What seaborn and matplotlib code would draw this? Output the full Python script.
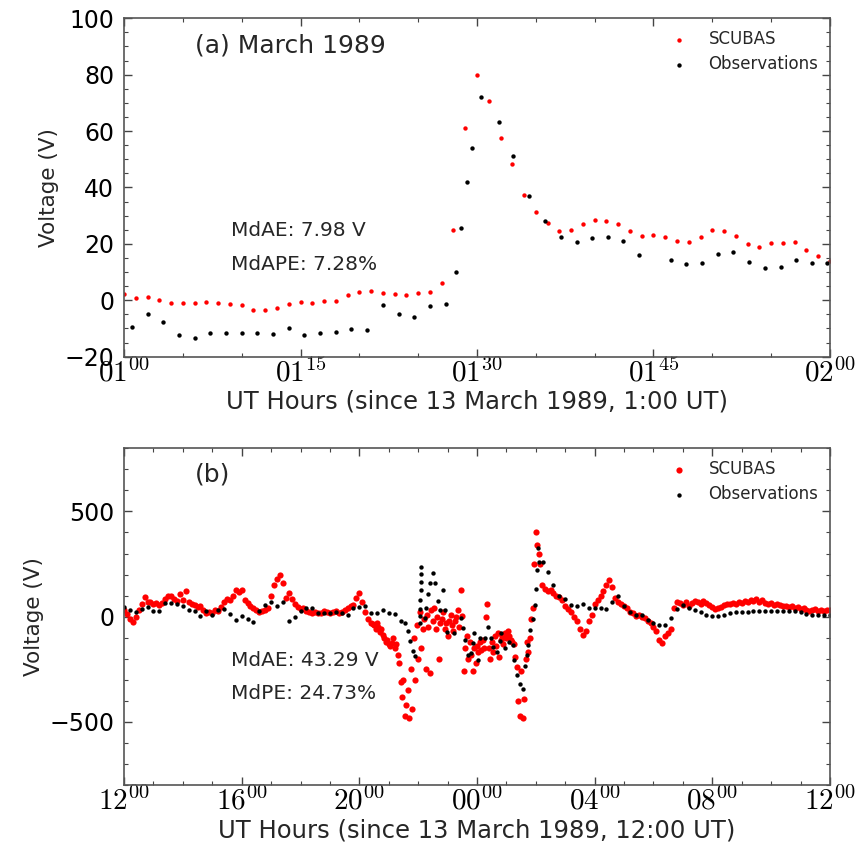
import numpy as np
import pandas as pd
import matplotlib
matplotlib.use("Agg")
import matplotlib.pyplot as plt
import seaborn as sns

# ---------------- Panel (a): 13 March 1989, 01:00-02:00 UT (minutes since 01:00) ----------------
scubas_a_start, scubas_a_step = 0.0, 1.0
scubas_a_v = [2.1, 0.7, 1.3, 0.2, -1.1, -1.1, -1.0, -0.5, -0.8, -1.2,
              -1.7, -3.4, -3.4, -2.7, -1.3, -0.6, -1.1, -0.4, -0.3, 1.9,
              2.8, 3.4, 2.7, 2.2, 2.0, 2.5, 2.9, 6.1, 24.9, 61.1,
              79.8, 70.8, 57.4, 48.3, 37.2, 31.3, 27.4, 24.5, 24.9, 26.9,
              28.5, 28.1, 27.1, 24.6, 22.7, 23.3, 22.3, 20.9, 20.7, 22.3,
              24.9, 24.5, 22.7, 20.0, 18.9, 20.2, 20.2, 20.8, 17.8, 15.8,
              13.9]
obs_a_t = [0.67, 2.0, 3.34, 4.67, 6.0, 7.33, 8.67, 10.0, 11.33, 12.67,
           14.0, 15.33, 16.67, 18.0, 19.33, 20.67, 22.0, 23.33, 24.67, 26.0,
           27.33, 28.2, 28.67, 29.14, 29.54, 30.33, 31.9, 33.07, 34.43, 35.77,
           37.12, 38.46, 39.79, 41.1, 42.45, 43.78, 46.5, 47.8, 49.1, 50.46,
           51.8, 53.1, 54.48, 55.8, 57.15, 58.48, 59.75]
obs_a_v = [-9.4, -4.9, -7.7, -12.3, -13.4, -11.7, -11.7, -11.5, -11.7, -12.0,
           -9.8, -12.3, -11.7, -11.4, -10.1, -10.6, -1.8, -5.0, -6.0, -2.1,
           -1.4, 10.1, 25.5, 42.0, 53.9, 72.1, 63.1, 51.1, 37.1, 28.0,
           22.4, 20.7, 22.1, 22.6, 21.1, 16.1, 14.2, 13.0, 13.2, 16.5,
           17.1, 13.6, 11.5, 11.9, 14.4, 13.3, 13.1]
xticks_a = [0, 15, 30, 45, 60]
xticklabels_a = [r"$\mathrm{01}^{00}$", r"$\mathrm{01}^{15}$", r"$\mathrm{01}^{30}$",
                 r"$\mathrm{01}^{45}$", r"$\mathrm{02}^{00}$"]

# ---------------- Panel (b): hours since 13 March 1989, 12:00 UT ----------------
# SCUBAS, segment 1 (0.0-8.4 h, 0.1 h sampling)
scubas_b1_start, scubas_b1_step = 0.0, 0.1
scubas_b1_v = [30, 14, -10, -25, 0, 30, 60, 93, 70, 70,
               58, 65, 54, 65, 85, 96, 100, 85, 74, 109,
               77, 122, 70, 58, 54, 46, 49, 30, 17, 22,
               17, 30, 27, 46, 70, 85, 77, 100, 125, 117,
               125, 80, 65, 50, 40, 30, 20, 25, 30, 40,
               100, 150, 180, 200, 160, 90, 110, 85, 60, 45,
               35, 40, 25, 20, 15, 20, 15, 18, 25, 20,
               15, 20, 25, 15, 20, 30, 40, 50, 55, 90,
               110, 70, 20, -10, -30]
# SCUBAS, segment 2 (8.45-14.15 h, 0.05 h sampling)
scubas_b2_start, scubas_b2_step = 8.45, 0.05
scubas_b2_v = [-35,
               -40, -60, -30, -50, -75, -60, -85, -100, -120, -110,
               -130, -140, -125, -100, -150, -130, -180, -220, -310, -380,
               -300, -470, -420, -350, -480, -250, -440, -100, -300, -40,
               -200, 20, -150, -60, -10, -250, 10, -50, -270, 30,
               -20, 40, -60, 0, -200, -30, -10, 20, -60, -30,
               -90, -20, 10, -40, -70, -20, 0, 30, -50, 125,
               5, -260, -150, -90, -200, -120, -180, -260, -150, -220,
               -140, -170, -120, -160, -110, -150, 0, 60, -150, -200,
               -120, -170, -90, -140, -80, -190, -110, -90, -130, -80,
               -100, -70, -90, -110, -120, -130, -190, -240, -400, -470,
               -260, -480, -390, -200, -120, -170, -100, -10, 40, 250,
               400, 340, 300, 250]
# SCUBAS, segment 3 (14.2-24.0 h, 0.1 h sampling)
scubas_b3_start, scubas_b3_step = 14.2, 0.1
scubas_b3_v = [150, 130, 120, 125, 110, 100, 95, 80,
               50, 35, 20, 0, -20, -60, -85, -70, -20, 10,
               60, 80, 100, 120, 150, 175, 140, 90, 70, 60,
               50, 40, 20, 15, 5, 10, 0, -5, -20, -30,
               -50, -70, -110, -125, -90, -80, -60, 40, 70, 65,
               55, 70, 50, 65, 75, 70, 60, 75, 65, 55,
               45, 35, 40, 45, 55, 60, 60, 65, 60, 70,
               65, 75, 70, 80, 75, 85, 70, 80, 65, 60,
               65, 55, 60, 55, 50, 50, 45, 50, 40, 45,
               35, 40, 30, 25, 30, 35, 25, 30, 25, 30,
               30]
# Observations, quiet part 1 (0.0-9.4 h, 0.2 h sampling)
obs_b1_start, obs_b1_step = 0.0, 0.2
obs_b1_v = [45, 30, 20, 38, 48, 28, 25, 65, 67, 60,
            50, 30, 25, 2, 25, 10, 30, 35, 14, -15,
            5, -11, -24, 28, 55, 70, 49, 70, -20, -2,
            28, 41, 41, 17, 17, 17, 21, 17, 9, 41,
            46, 52, 17, 17, 30, 17, 11, -22]
# Observations, disturbed part (irregular sampling)
obs_b2_t = [9.55, 9.65, 9.72, 9.84, 9.90, 10.05, 10.06, 10.07, 10.07, 10.08,
            10.08, 10.09, 10.10, 10.24, 10.27, 10.33, 10.41, 10.52, 10.58, 10.67,
            10.75, 10.83, 10.90, 10.98, 11.22, 11.46, 11.54, 11.60, 11.71, 11.80,
            11.86, 11.90, 12.05, 12.11, 12.28, 12.36, 12.47, 12.56, 12.68, 12.77,
            12.83, 12.96, 13.10, 13.21, 13.27, 13.36, 13.47, 13.55, 13.64, 13.70,
            13.75, 13.81, 13.90, 13.97, 14.02, 14.04, 14.06, 14.12, 14.26, 14.40]
obs_b2_v = [-30, -70, -114, -164, -188, -30, 1, 38, 81, 125,
            163, 202, 235, -6, 41, 109, 160, 207, 160, 73,
            33, 125, 30, -74, -80, -6, -54, -109, -180, -172,
            -125, -77, -204, -101, -101, -51, -101, -145, -169, -117,
            -77, -148, -120, -133, -204, -275, -322, -346, -235, -180,
            -133, -62, -11, 57, 131, 223, 327, 262, 262, 210]
# Observations, quiet part 2 (14.6-24.0 h, 0.2 h sampling)
obs_b3_start, obs_b3_step = 14.6, 0.2
obs_b3_v = [150, 100,
            84, 57, 49, 58, 41,
            41, 41, 38, 70, 98,
            49, 20, 10, 10, -14,
            -30, -40, -40, -8, 36,
            55, 41, 32, 22, 10,
            3, 3, 9, 17, 22,
            22, 24, 25, 25, 25,
            25, 25, 25, 25, 25,
            24, 13, 9, 9, 9,
            9]
xticks_b = [0, 4, 8, 12, 16, 20, 24]
xticklabels_b = [r"$\mathrm{12}^{00}$", r"$\mathrm{16}^{00}$", r"$\mathrm{20}^{00}$",
                 r"$\mathrm{00}^{00}$", r"$\mathrm{04}^{00}$", r"$\mathrm{08}^{00}$",
                 r"$\mathrm{12}^{00}$"]


def times(start, step, vals):
    return start + step * np.arange(len(vals))


sc_a = pd.DataFrame({"t": times(scubas_a_start, scubas_a_step, scubas_a_v), "v": scubas_a_v})
ob_a = pd.DataFrame({"t": obs_a_t, "v": obs_a_v})
sc_b = pd.DataFrame({
    "t": np.concatenate([times(scubas_b1_start, scubas_b1_step, scubas_b1_v),
                         times(scubas_b2_start, scubas_b2_step, scubas_b2_v),
                         times(scubas_b3_start, scubas_b3_step, scubas_b3_v)]),
    "v": scubas_b1_v + scubas_b2_v + scubas_b3_v})
ob_b = pd.DataFrame({
    "t": np.concatenate([times(obs_b1_start, obs_b1_step, obs_b1_v),
                         np.array(obs_b2_t),
                         times(obs_b3_start, obs_b3_step, obs_b3_v)]),
    "v": obs_b1_v + obs_b2_v + obs_b3_v})

sns.set_style("ticks")
plt.rcParams["font.family"] = ["DejaVu Sans"]
plt.rcParams["mathtext.fontset"] = "cm"

fig = plt.figure(figsize=(8.66, 8.5), dpi=100)
ax1 = fig.add_axes([0.1432, 0.5804, 0.8152, 0.3981])
ax2 = fig.add_axes([0.1432, 0.0765, 0.8152, 0.3961])

sns.scatterplot(data=sc_a, x="t", y="v", ax=ax1, color="red", s=10, linewidth=0, label="SCUBAS")
sns.scatterplot(data=ob_a, x="t", y="v", ax=ax1, color="black", s=10, linewidth=0, label="Observations")
sns.scatterplot(data=sc_b, x="t", y="v", ax=ax2, color="red", s=20, linewidth=0, label="SCUBAS")
sns.scatterplot(data=ob_b, x="t", y="v", ax=ax2, color="black", s=10, linewidth=0, label="Observations")

ax1.set_xlim(0, 60)
ax1.set_ylim(-20, 100)
ax1.set_xticks(xticks_a)
ax1.set_xticklabels(xticklabels_a)
ax1.set_xticks(np.arange(0, 61, 5), minor=True)
ax1.set_yticks(np.arange(-20, 101, 20))
ax1.set_yticks(np.arange(-20, 101, 5), minor=True)
ax1.set_xlabel("UT Hours (since 13 March 1989, 1:00 UT)", fontsize=17.5, labelpad=2)
ax1.set_ylabel("Voltage (V)", fontsize=15.5, labelpad=4)

ax2.set_xlim(0, 24)
ax2.set_ylim(-800, 800)
ax2.set_xticks(xticks_b)
ax2.set_xticklabels(xticklabels_b)
ax2.set_xticks(np.arange(0, 25, 1), minor=True)
ax2.set_yticks([-500, 0, 500])
ax2.set_yticks(np.arange(-800, 801, 100), minor=True)
ax2.set_xlabel("UT Hours (since 13 March 1989, 12:00 UT)", fontsize=17.5, labelpad=2)
ax2.set_ylabel("Voltage (V)", fontsize=15.5, labelpad=4)

for ax in (ax1, ax2):
    ax.tick_params(which="both", direction="in", top=True, right=True, colors="#444444",
                   labelcolor="black")
    ax.tick_params(which="major", length=6, width=1)
    ax.tick_params(which="minor", length=3, width=0.8)
    ax.tick_params(axis="y", which="major", labelsize=17, pad=7)
    ax.tick_params(axis="x", which="major", labelsize=21, pad=1)
    for sp in ax.spines.values():
        sp.set_color("#555555")
        sp.set_linewidth(1.2)
    ax.legend(loc="upper right", frameon=False, fontsize=12, markerscale=1.0,
              handletextpad=0.75, borderaxespad=0.3, labelspacing=0.45)

ax1.text(0.10, 0.921, "(a) March 1989", transform=ax1.transAxes, fontsize=18, va="center")
ax1.text(0.152, 0.372, "MdAE: 7.98 V", transform=ax1.transAxes, fontsize=14.5, va="center")
ax1.text(0.152, 0.271, "MdAPE: 7.28%", transform=ax1.transAxes, fontsize=14.5, va="center")
ax2.text(0.10, 0.921, "(b)", transform=ax2.transAxes, fontsize=18, va="center")
ax2.text(0.152, 0.371, "MdAE: 43.29 V", transform=ax2.transAxes, fontsize=14.5, va="center")
ax2.text(0.152, 0.273, "MdPE: 24.73%", transform=ax2.transAxes, fontsize=14.5, va="center")

fig.savefig("out.png", dpi=100)
